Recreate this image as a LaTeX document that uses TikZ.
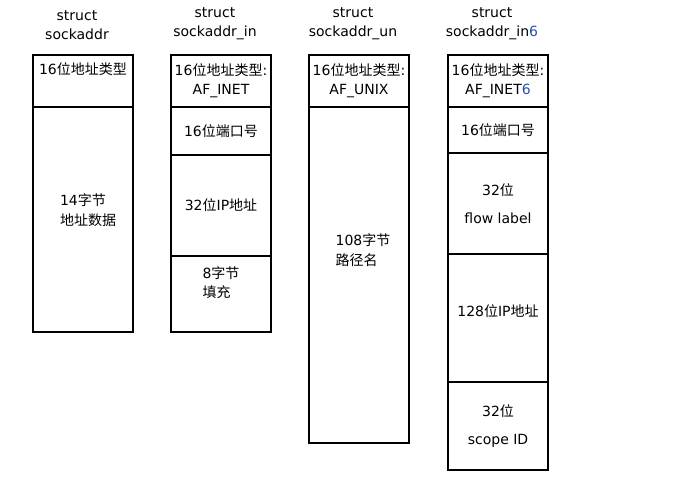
\documentclass[tikz,border=0pt]{standalone}
\usepackage{fontspec}
\setmainfont{DejaVu Sans}
\newfontfamily\cjk{Noto Sans CJK SC}
\usetikzlibrary{positioning}
\definecolor{six_blue}{RGB}{40,80,170}
\newcommand{\zh}[1]{{\cjk #1}}

\begin{document}
\begin{tikzpicture}[
      x=1pt, y=-1pt,
      field/.style={
         draw=black,
         line width=1.8pt,
         minimum width=100pt,
         inner sep=1pt,
         outer sep=0pt,
         align=center,
         font=\fontsize{14}{19}\selectfont},
      txt/.style={
         inner sep=0pt,
         align=left,
         font=\fontsize{14}{20}\selectfont},
      title/.style={
         inner sep=0pt,
         align=center,
         xshift=-6pt,
         font=\fontsize{14}{19}\selectfont},
      node distance=0pt,
      ]
      \useasboundingbox (0,0) rectangle (677,478);

      % struct sockaddr
      \node[field,minimum height=52pt,anchor=north west] (a1) at (33,55) {16\zh{位地址类型}\\ \strut};
      \node[field,minimum height=225pt,below=of a1] (a2) {};
      \node[txt] (a2t) at ([xshift=5pt,yshift=9pt]a2.center) {14\zh{字节}\\\zh{地址数据}};

      % struct sockaddr_in
      \node[field,minimum height=52pt,anchor=north west] (b1) at (171,55) {16\zh{位地址类型}:\\AF\_INET};
      \node[field,minimum height=48pt,below=of b1] (b2) {16\zh{位端口号}};
      \node[field,minimum height=101pt,below=of b2] (b3) {32\zh{位}IP\zh{地址}};
      \node[field,minimum height=76pt,below=of b3,align=left] (b4) {8\zh{字节}\\\zh{填充}\\ \strut};

      % struct sockaddr_un
      \node[field,minimum height=52pt,anchor=north west] (c1) at (309,55) {16\zh{位地址类型}:\\AF\_UNIX};
      \node[field,minimum height=336pt,below=of c1] (c2) {};
      \node[txt] (c2t) at ([xshift=4pt,yshift=25pt]c2.center) {108\zh{字节}\\\zh{路径名}};

      % struct sockaddr_in6
      \node[field,minimum height=52pt,anchor=north west] (d1) at (448,55) {16\zh{位地址类型}:\\AF\_INET{\color{six_blue}6}};
      \node[field,minimum height=46pt,below=of d1] (d2) {16\zh{位端口号}};
      \node[field,minimum height=101pt,below=of d2] (d3) {32\zh{位}\\[9pt]flow label};
      \node[field,minimum height=128pt,below=of d3] (d4) {128\zh{位}IP\zh{地址}\\[-5pt]~};
      \node[field,minimum height=88pt,below=of d4] (d5) {32\zh{位}\\[9pt]scope ID};

      % titles
      \node[title,above=15pt of a1] (ta) {struct\\sockaddr};
      \node[title,above=15pt of b1] (tb) {struct\\sockaddr\_in};
      \node[title,above=15pt of c1] (tc) {struct\\sockaddr\_un};
      \node[title,above=15pt of d1] (td) {struct\\sockaddr\_in{\color{six_blue}6}};
\end{tikzpicture}
\end{document}
